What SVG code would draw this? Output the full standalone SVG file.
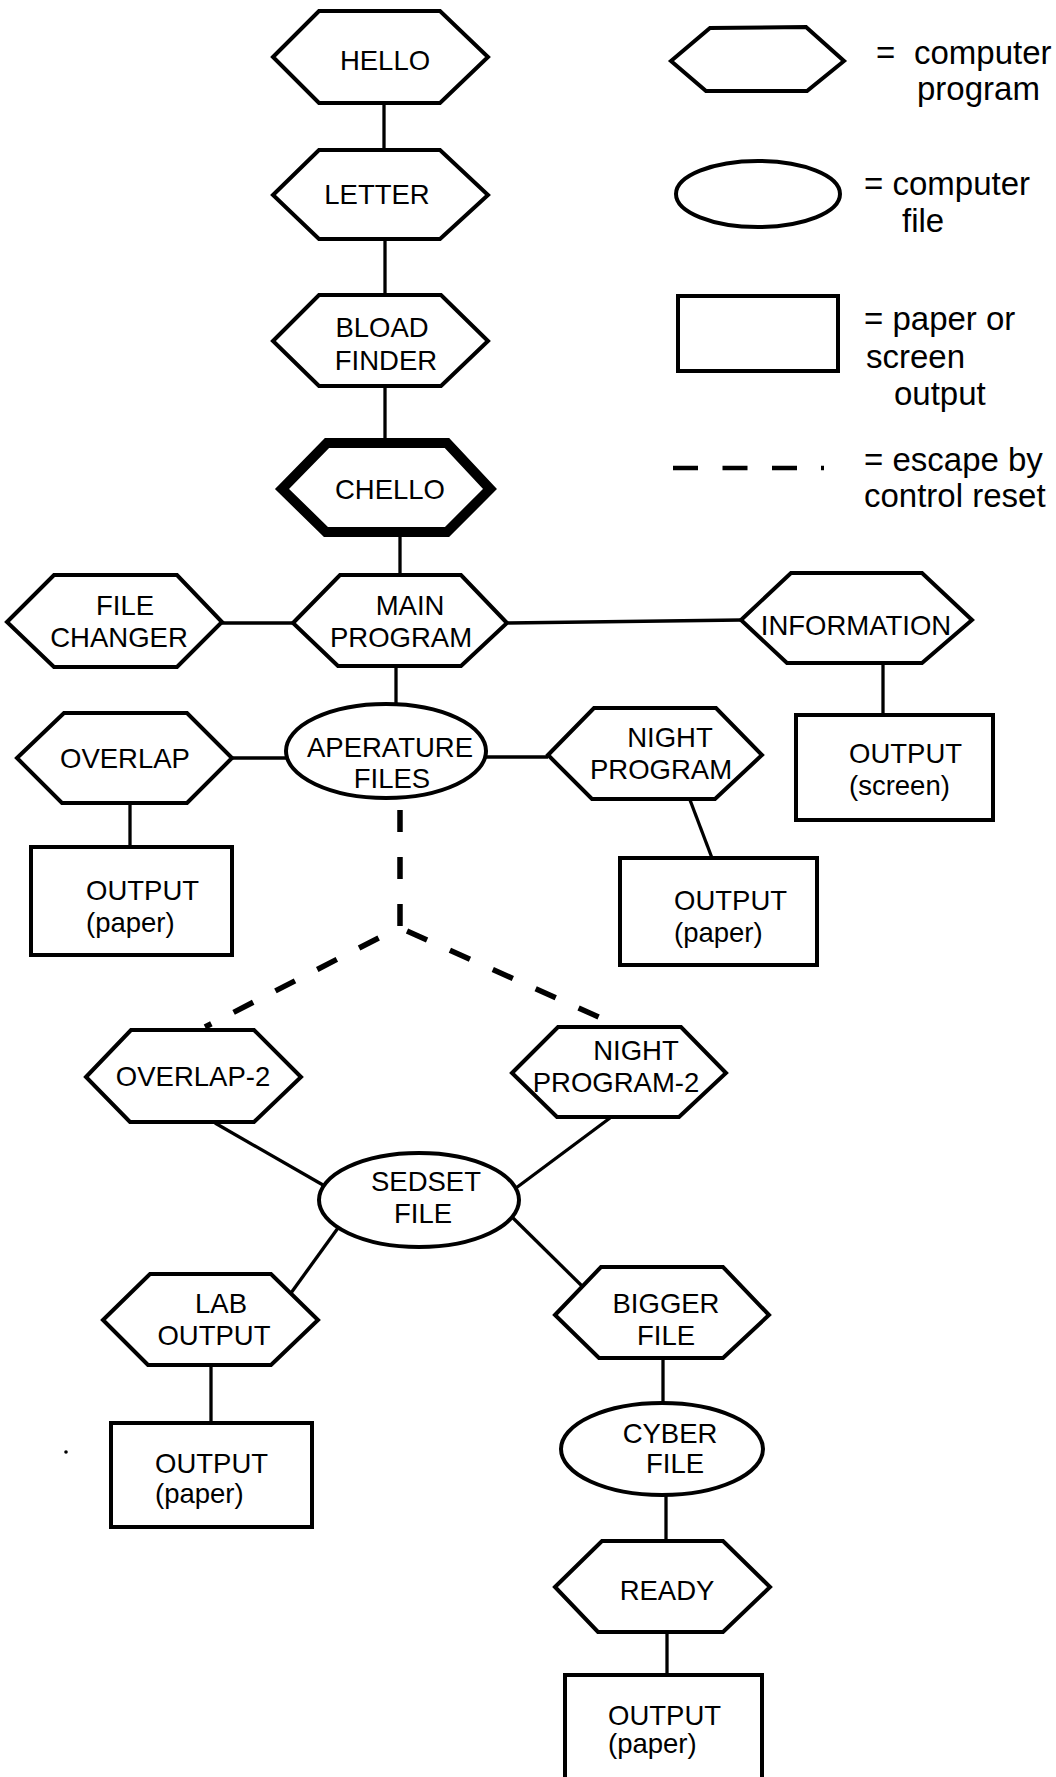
<svg xmlns="http://www.w3.org/2000/svg" width="1056" height="1777" viewBox="0 0 1056 1777">
<style>
  .shape { fill: #fff; stroke: #000; stroke-width: 4; stroke-linejoin: miter; }
  .thick { fill: #fff; stroke: #000; stroke-width: 10; stroke-linejoin: miter; }
  .edge { fill: none; stroke: #000; stroke-width: 3.3; }
  .dash { fill: none; stroke: #000; stroke-width: 5.5; stroke-dasharray: 22 25; }
  .t { font-family: "Liberation Sans", Arial, Helvetica, sans-serif; font-size: 27.5px; fill: #000; }
  .c { text-anchor: middle; }
  .lg { font-family: "Liberation Sans", Arial, Helvetica, sans-serif; font-size: 33px; fill: #000; }
</style>
<rect x="0" y="0" width="1056" height="1777" fill="#fff"/>

<g id="connectors">
  <line class="edge" x1="384" y1="103" x2="384" y2="150"/>
  <line class="edge" x1="385" y1="239" x2="385" y2="295"/>
  <line class="edge" x1="385" y1="386" x2="385" y2="439"/>
  <line class="edge" x1="400" y1="536" x2="400" y2="575"/>
  <line class="edge" x1="222" y1="623" x2="293" y2="623"/>
  <line class="edge" x1="507" y1="623" x2="741" y2="620"/>
  <line class="edge" x1="396" y1="666" x2="396" y2="704"/>
  <line class="edge" x1="883" y1="663" x2="883" y2="715"/>
  <line class="edge" x1="232" y1="758" x2="286" y2="758"/>
  <line class="edge" x1="486" y1="757" x2="548" y2="757"/>
  <line class="edge" x1="130" y1="803" x2="130" y2="847"/>
  <line class="edge" x1="690" y1="800" x2="712" y2="858"/>
  <path class="dash" d="M400,810 L400,927 L205,1027"/>
  <path class="dash" d="M407,931 L610,1022"/>
  <line class="edge" x1="215" y1="1123" x2="323" y2="1185"/>
  <line class="edge" x1="610" y1="1118" x2="516" y2="1188"/>
  <line class="edge" x1="338" y1="1228" x2="291" y2="1293"/>
  <line class="edge" x1="512" y1="1217" x2="582" y2="1286"/>
  <line class="edge" x1="211" y1="1365" x2="211" y2="1423"/>
  <line class="edge" x1="663" y1="1358" x2="663" y2="1403"/>
  <line class="edge" x1="666" y1="1495" x2="666" y2="1540"/>
  <line class="edge" x1="667" y1="1632" x2="667" y2="1675"/>
</g>

<g id="node-hello">
  <polygon class="shape" points="273,57 319,11 440,11 488,57 440,103 319,103"/>
  <text class="t c" x="385" y="70">HELLO</text>
</g>
<g id="node-letter">
  <polygon class="shape" points="273,195 319,150 440,150 488,195 440,239 319,239"/>
  <text class="t c" x="377" y="204">LETTER</text>
</g>
<g id="node-bload-finder">
  <polygon class="shape" points="273,341 319,295 441,295 488,341 441,386 319,386"/>
  <text class="t c" x="382" y="337">BLOAD</text>
  <text class="t c" x="386" y="370">FINDER</text>
</g>
<g id="node-chello">
  <polygon class="thick" points="282,489 327,443 447,443 490,489 447,532 326,532"/>
  <text class="t c" x="390" y="499">CHELLO</text>
</g>
<g id="node-file-changer">
  <polygon class="shape" points="7,622 54,575 177,575 222,622 177,667 54,667"/>
  <text class="t c" x="125" y="615">FILE</text>
  <text class="t c" x="119" y="647">CHANGER</text>
</g>
<g id="node-main-program">
  <polygon class="shape" points="293,623 340,575 461,575 507,623 461,666 338,666"/>
  <text class="t c" x="410" y="615">MAIN</text>
  <text class="t c" x="401" y="647">PROGRAM</text>
</g>
<g id="node-information">
  <polygon class="shape" points="741,620 791,573 922,573 972,620 922,663 787,663"/>
  <text class="t c" x="856" y="635">INFORMATION</text>
</g>
<g id="node-output-screen">
  <rect class="shape" x="796" y="715" width="197" height="105"/>
  <text class="t" x="849" y="763">OUTPUT</text>
  <text class="t" x="849" y="795">(screen)</text>
</g>
<g id="node-overlap">
  <polygon class="shape" points="17,758 64,713 187,713 232,758 187,803 62,803"/>
  <text class="t c" x="125" y="768">OVERLAP</text>
</g>
<g id="node-aperature-files">
  <ellipse class="shape" cx="386" cy="751" rx="100" ry="47"/>
  <text class="t c" x="390" y="757">APERATURE</text>
  <text class="t c" x="392" y="788">FILES</text>
</g>
<g id="node-night-program">
  <polygon class="shape" points="548,755 594,708 716,708 762,755 715,799 592,799"/>
  <text class="t c" x="670" y="747">NIGHT</text>
  <text class="t c" x="661" y="779">PROGRAM</text>
</g>
<g id="node-output-paper-1">
  <rect class="shape" x="31" y="847" width="201" height="108"/>
  <text class="t" x="86" y="900">OUTPUT</text>
  <text class="t" x="86" y="932">(paper)</text>
</g>
<g id="node-output-paper-2">
  <rect class="shape" x="620" y="858" width="197" height="107"/>
  <text class="t" x="674" y="910">OUTPUT</text>
  <text class="t" x="674" y="942">(paper)</text>
</g>
<g id="node-overlap-2">
  <polygon class="shape" points="86,1077 131,1030 254,1030 301,1077 254,1122 130,1122"/>
  <text class="t c" x="193" y="1086">OVERLAP-2</text>
</g>
<g id="node-night-program-2">
  <polygon class="shape" points="512,1073 558,1027 681,1027 726,1073 679,1117 557,1117"/>
  <text class="t c" x="636" y="1060">NIGHT</text>
  <text class="t c" x="616" y="1092">PROGRAM-2</text>
</g>
<g id="node-sedset-file">
  <ellipse class="shape" cx="419" cy="1200" rx="100" ry="47"/>
  <text class="t c" x="426" y="1191">SEDSET</text>
  <text class="t c" x="423" y="1223">FILE</text>
</g>
<g id="node-lab-output">
  <polygon class="shape" points="103,1320 150,1274 271,1274 318,1320 271,1365 148,1365"/>
  <text class="t c" x="221" y="1313">LAB</text>
  <text class="t c" x="214" y="1345">OUTPUT</text>
</g>
<g id="node-bigger-file">
  <polygon class="shape" points="555,1315 601,1267 723,1267 769,1315 723,1358 599,1358"/>
  <text class="t c" x="666" y="1313">BIGGER</text>
  <text class="t c" x="666" y="1345">FILE</text>
</g>
<g id="node-output-paper-3">
  <rect class="shape" x="111" y="1423" width="201" height="104"/>
  <text class="t" x="155" y="1473">OUTPUT</text>
  <text class="t" x="155" y="1503">(paper)</text>
</g>
<g id="node-cyber-file">
  <ellipse class="shape" cx="662" cy="1449" rx="101" ry="46"/>
  <text class="t c" x="670" y="1443">CYBER</text>
  <text class="t c" x="675" y="1473">FILE</text>
</g>
<g id="node-ready">
  <polygon class="shape" points="555,1587 602,1541 723,1541 770,1587 723,1632 598,1632"/>
  <text class="t c" x="667" y="1600">READY</text>
</g>
<g id="node-output-paper-4">
  <rect class="shape" x="565" y="1675" width="197" height="130"/>
  <text class="t" x="608" y="1725">OUTPUT</text>
  <text class="t" x="608" y="1753">(paper)</text>
</g>

<g id="legend">
  <polygon class="shape" points="671,61 710,28 806,27 844,61 807,91 706,91"/>
  <text class="lg" x="876" y="64">=</text>
  <text class="lg" x="914" y="64">computer</text>
  <text class="lg" x="917" y="100">program</text>
  <ellipse class="shape" cx="758" cy="194" rx="82" ry="33"/>
  <text class="lg" x="864" y="195">= computer</text>
  <text class="lg" x="902" y="232">file</text>
  <rect class="shape" x="678" y="296" width="160" height="75"/>
  <text class="lg" x="864" y="330">= paper or</text>
  <text class="lg" x="866" y="368">screen</text>
  <text class="lg" x="894" y="405">output</text>
  <line x1="673" y1="468" x2="824" y2="468" stroke="#000" stroke-width="4.5" stroke-dasharray="25 24.5 25 24.5 25 24 3 0"/>
  <text class="lg" x="864" y="471">= escape by</text>
  <text class="lg" x="864" y="507">control reset</text>
</g>
<circle cx="66" cy="1452" r="1.8" fill="#000"/>
</svg>
